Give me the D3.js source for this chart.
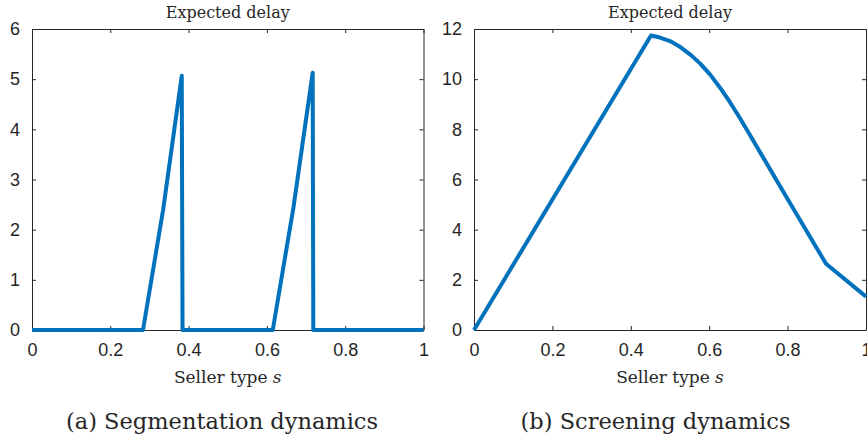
<!DOCTYPE html>
<html>
<head>
<meta charset="utf-8">
<script src="https://cdn.jsdelivr.net/npm/d3@7"></script>
<style>
  body { margin: 0; background: #fff; }
  .tick text { font-family: "Liberation Sans", Arial, sans-serif; font-size: 18px; fill: #262626; }
  .serif { font-family: "DejaVu Serif", serif; fill: #262626; }
</style>
</head>
<body>
<svg id="drawing_region"></svg>
<script>
// (a) Segmentation dynamics
var segS     = [0, 0.2835, 0.335, 0.3825, 0.3845, 0.615, 0.668, 0.717, 0.7185, 1];
var segDelay = [0, 0,      2.4,   5.07,   0,      0,     2.45,  5.13,  0,      0];

// (b) Screening dynamics
var scrS     = [0, 0.4515, 0.4745, 0.5, 0.5255, 0.551, 0.5765, 0.602, 0.6276, 0.653, 0.6786, 0.704, 0.7977, 0.898, 1];
var scrDelay = [0, 11.74,  11.66,  11.52, 11.29, 10.99, 10.63, 10.19, 9.66,   9.08,  8.44,   7.77,  5.28,   2.64,  1.33];

var xTicks = [0, 0.2, 0.4, 0.6, 0.8, 1];
var segYTicks = [0, 1, 2, 3, 4, 5, 6];
var scrYTicks = [0, 2, 4, 6, 8, 10, 12];

var titles = ["Expected delay", "Expected delay"];
var captions = ["(a) Segmentation dynamics", "(b) Screening dynamics"];

var svg = d3.select("#drawing_region").attr("width", 867).attr("height", 442);

function panel(cfg) {
    var x = d3.scaleLinear().domain([0, 1]).range([cfg.left, cfg.right]);
    var y = d3.scaleLinear().domain([0, cfg.ymax]).range([330, 29]);
    var g = svg.append("g");

    g.append("g").attr("transform", "translate(0,330)")
        .call(d3.axisBottom(x).tickValues(xTicks).tickSize(-4).tickSizeOuter(0).tickPadding(13).tickFormat(d3.format("")));
    g.append("g").attr("transform", "translate(0,29)")
        .call(d3.axisTop(x).tickValues(xTicks).tickSize(-4).tickSizeOuter(0).tickFormat(""));
    g.append("g").attr("transform", `translate(${cfg.left},0)`)
        .call(d3.axisLeft(y).tickValues(cfg.yTicks).tickSize(-4).tickSizeOuter(0).tickPadding(12).tickFormat(d3.format("d")));
    g.append("g").attr("transform", `translate(${cfg.right},0)`)
        .call(d3.axisRight(y).tickValues(cfg.yTicks).tickSize(-4).tickSizeOuter(0).tickFormat(""));

    g.selectAll(".domain, .tick line").attr("stroke", "#262626").attr("stroke-width", 1);

    var line = d3.line().x(d => x(d[0])).y(d => y(d[1]));
    g.append("path")
        .datum(d3.zip(cfg.xs, cfg.ys))
        .attr("d", line)
        .attr("fill", "none")
        .attr("stroke", "#0072BD")
        .attr("stroke-width", 4)
        .attr("stroke-linejoin", "round");

    var cx = (cfg.left + cfg.right) / 2;
    g.append("text").attr("class", "serif")
        .attr("x", cx).attr("y", 18).attr("text-anchor", "middle")
        .style("font-size", "16px").text(cfg.title);

    var xl = g.append("text").attr("class", "serif")
        .attr("x", cx).attr("y", 383).attr("text-anchor", "middle")
        .style("font-size", "17px");
    xl.append("tspan").text("Seller type ");
    xl.append("tspan").style("font-style", "italic").text("s");

    g.append("text").attr("class", "serif")
        .attr("x", cfg.capX).attr("y", 429).attr("text-anchor", "middle")
        .style("font-size", "22.5px").text(cfg.caption);
}

panel({ left: 32, right: 423.5, ymax: 6, yTicks: segYTicks, xs: segS, ys: segDelay,
        title: titles[0], caption: captions[0], capX: 222 });
panel({ left: 474, right: 866, ymax: 12, yTicks: scrYTicks, xs: scrS, ys: scrDelay,
        title: titles[1], caption: captions[1], capX: 655.5 });
</script>
</body>
</html>
